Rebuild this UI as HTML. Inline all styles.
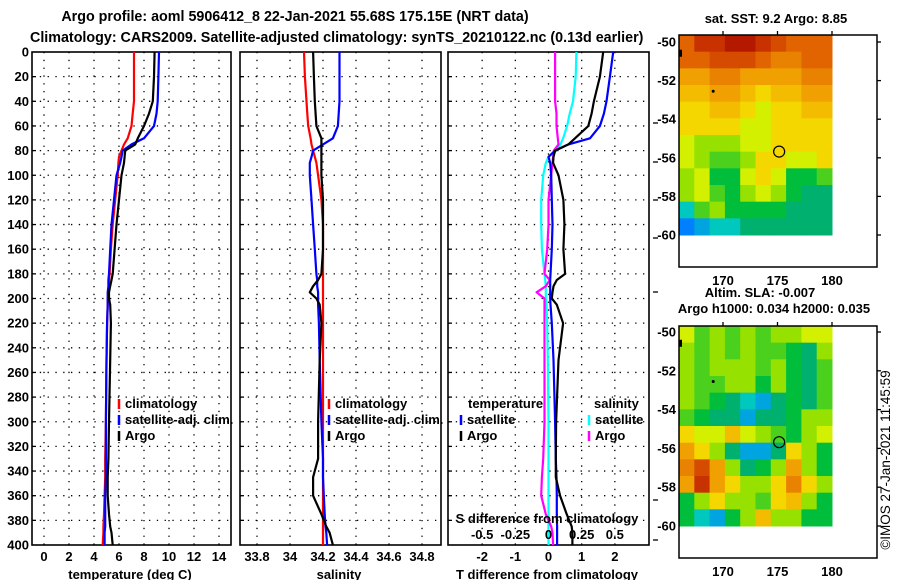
<!DOCTYPE html>
<html><head><meta charset="utf-8">
<style>
html,body{margin:0;padding:0;background:#fff;}
svg{display:block;font-family:"Liberation Sans",sans-serif;font-weight:bold;}
text{font-size:13px;fill:#000;}
</style></head>
<body>
<svg id="chart" width="900" height="580" viewBox="0 0 900 580" xmlns="http://www.w3.org/2000/svg">
<text x="295" y="21" text-anchor="middle" style="font-size:14.3px">Argo profile: aoml 5906412_8 22-Jan-2021 55.68S 175.15E (NRT data)</text>
<text x="30" y="42" style="font-size:14.3px">Climatology: CARS2009. Satellite-adjusted climatology: synTS_20210122.nc (0.13d earlier)</text>
<text x="776" y="23" text-anchor="middle">sat. SST: 9.2 Argo: 8.85</text>
<text x="760" y="297" text-anchor="middle">Altim. SLA: -0.007</text>
<text x="774" y="313" text-anchor="middle">Argo h1000: 0.034 h2000: 0.035</text>
<text transform="translate(890,460) rotate(-90)" text-anchor="middle" style="font-weight:normal;font-size:13.5px">©IMOS 27-Jan-2021 11:45:59</text>
<g id="g"></g>
</svg>
<script>
// ---------- data ----------
const depths = [0,20,40,50,60,70,75,80,85,90,100,120,140,160,180,185,190,195,200,205,220,250,300,330,345,360,375,385,390,400];
// Panel 1 temperature (deg C)
const tClim = [7.2,7.2,7.2,7.1,7.0,6.7,6.4,6.2,6.0,5.95,5.9,5.7,5.5,5.35,5.25,5.2,5.2,5.15,5.1,5.1,5.05,5.0,4.95,4.9,4.9,4.85,4.8,4.75,4.75,4.7];
const tSat  = [9.2,9.15,9.1,9.0,8.8,8.0,7.0,6.3,6.2,6.1,5.8,5.6,5.4,5.3,5.2,5.15,5.15,5.1,5.1,5.1,5.05,5.0,4.95,4.95,4.95,4.9,4.9,4.9,4.85,4.85];
const tArgo = [8.85,8.8,8.7,8.4,8.0,7.5,7.3,6.5,6.45,6.4,6.2,6.0,5.8,5.65,5.5,5.4,5.3,5.2,5.2,5.3,5.35,5.3,5.2,5.15,5.1,5.1,5.2,5.3,5.4,5.5];
// Panel 2 salinity
const sClim = [34.085,34.09,34.1,34.105,34.11,34.125,34.13,34.14,34.15,34.16,34.17,34.19,34.2,34.2,34.2,34.2,34.2,34.2,34.2,34.2,34.2,34.2,34.2,34.2,34.2,34.2,34.2,34.2,34.2,34.2];
const sSat  = [34.30,34.30,34.30,34.295,34.29,34.26,34.2,34.14,34.13,34.12,34.12,34.13,34.14,34.15,34.16,34.165,34.165,34.17,34.17,34.17,34.175,34.18,34.19,34.2,34.2,34.205,34.21,34.215,34.22,34.225];
const sArgo = [34.14,34.145,34.15,34.155,34.16,34.19,34.19,34.19,34.19,34.19,34.19,34.2,34.2,34.2,34.19,34.17,34.14,34.12,34.16,34.18,34.19,34.18,34.17,34.17,34.14,34.14,34.19,34.22,34.24,34.26];
// Panel 3 differences (T in deg C, S in PSU)
const dTSat  = [1.95,1.85,1.75,1.67,1.55,1.25,0.6,0.2,0.0,0.05,0.08,0.1,0.12,0.1,0.06,0.05,0.05,0.05,0.05,0.06,0.1,0.15,0.2,0.22,0.24,0.25,0.25,0.26,0.26,0.26];
const dTArgo = [1.65,1.55,1.37,1.3,1.2,0.8,0.6,0.2,0.15,0.14,0.3,0.45,0.48,0.45,0.5,0.25,0.15,0.12,0.1,0.25,0.44,0.3,0.23,0.22,0.22,0.35,0.55,0.7,0.72,0.72];
const dSSat  = [0.21,0.205,0.185,0.16,0.14,0.11,0.09,0.06,0.0,-0.02,-0.04,-0.055,-0.055,-0.05,-0.03,-0.025,-0.02,-0.02,-0.02,-0.015,-0.01,-0.005,0.0,0.0,0.0,0.0,0.0,0.0,0.0,0.0];
const dSArgo = [0.05,0.05,0.05,0.06,0.06,0.07,0.075,0.04,0.035,0.03,0.02,0.0,0.0,-0.01,-0.03,0.01,-0.02,-0.09,-0.03,-0.03,-0.03,-0.03,-0.03,-0.04,-0.05,-0.055,-0.02,0.02,0.03,0.035];

const depthTicks = [0,20,40,60,80,100,120,140,160,180,200,220,240,260,280,300,320,340,360,380,400];
const tTicks = [0,2,4,6,8,10,12,14];
const sTicks = [33.8,34,34.2,34.4,34.6,34.8];
const sTickLabels = ["33.8","34","34.2","34.4","34.6","34.8"];
const dTTicks = [-2,-1,0,1,2];
const dSTicks = [-0.5,-0.25,0,0.25,0.5];
const dSTickLabels = ["-0.5","-0.25","0","0.25","0.5"];

// Maps (12 rows top->bottom, 10 columns left->right), colour index 0..10
const sstGrid = [
 [8,9,9,9.5,9.5,9,8.5,8,8,8],
 [8,8,8.5,8.5,8.5,8,7.5,7.5,8,8],
 [7,7,7.5,7.5,7,7,7,7,7.5,7.5],
 [6.5,6.5,7,7,6.5,6,6.5,6.5,7,7],
 [6,6,6.5,6.5,6,5.5,6,6,6.5,6.5],
 [6,6,6,6,5.5,5.5,6,6,6,6],
 [5.5,5,5,5,5.5,5.5,6,6,6,6],
 [5.5,5,4.5,4.5,5,6,6,5.5,5.5,6],
 [5,5.5,4,4,5.5,6,5.5,4,4,4.5],
 [5,5.5,4.5,4,5,5.5,5,4,3.5,3.5],
 [3,4.5,5,4,4,4,4,3.5,3.5,3.5],
 [2,2.5,3,3,3.5,3.5,3.5,3.5,3.5,3.5]];
const slaGrid = [
 [5.5,4.5,5,4.5,5,4.5,5,5,5.5,5.5],
 [5,4.5,5,4.5,5,4.5,4.5,4,3.5,5],
 [5,4.5,5,5,5,4.5,5,4,3.5,4.5],
 [5,4.5,4.5,5,5,4,5,4,3.5,4.5],
 [5,4.5,4,3.5,3,2.5,3.5,4,3.5,4.5],
 [4.5,4,3.5,3.5,2.5,3.5,3.5,4,5,5],
 [6,5.5,5.5,6.5,5.5,5,4.5,4,5,5.5],
 [7,6,5,3.5,2.5,2.5,3.5,6,5,4],
 [7.5,8.5,7,5,3.5,4,5,7,5,4],
 [7,9,7,6,5,5,6,7.5,6,5],
 [4,5,6,5,5,4.5,6,6.5,5,4],
 [4,3,2.5,4,5,6.5,5,5,4,4]];
const latTicks = [-50,-52,-54,-56,-58,-60];
const lonTicks = [170,175,180];
const argoLon = 175.15, argoLat = -55.68;

// ---------- helpers ----------
const NS = "http://www.w3.org/2000/svg";
const root = document.getElementById("g");
function mk(tag, attrs, parent){
  const e = document.createElementNS(NS, tag);
  for (const k in attrs) e.setAttribute(k, attrs[k]);
  (parent||root).appendChild(e);
  return e;
}
const yTop = 52, yBot = 545;
const yD = d => yTop + (d/400)*(yBot-yTop);

function panel(name, x0, x1, vmin, vmax, ticks, labels, showDepthLabels){
  const sx = v => x0 + (v - vmin)/(vmax - vmin)*(x1 - x0);
  const g = mk("g", {});
  
  
  depthTicks.forEach(d => {
    if (d===0||d===400) return;
    const l = mk("line",{x1:x0,x2:x1,y1:yD(d),y2:yD(d),stroke:"#000","stroke-width":1.3,"stroke-dasharray":"1.3 6.5"},g);
    
    
    const tk = mk("line",{x1:x0,x2:x0+4,y1:yD(d),y2:yD(d),stroke:"#000","stroke-width":1.3},g);
    
    
  });
  ticks.forEach((t,i) => {
    const x = sx(t);
    const l = mk("line",{x1:x,x2:x,y1:yTop,y2:yBot,stroke:"#000","stroke-width":1.3,"stroke-dasharray":"1.3 6.5"},g);
    
    
    if (labels){
      const tx = mk("text",{x:x,y:561,"text-anchor":"middle"},g);
      tx.textContent = labels[i];
      
      
    }
  });
  if (showDepthLabels){
    depthTicks.forEach(d => {
      const tx = mk("text",{x:29,y:yD(d)+4.5,"text-anchor":"end"},g);
      tx.textContent = d;
      
      
    });
  }
  const fr = mk("rect",{x:x0,y:yTop,width:x1-x0,height:yBot-yTop,fill:"none",stroke:"#000","stroke-width":1.6},g);
  
  
  return {g, sx};
}
function series(p, vals, color, name, w){
  const pts = vals.map((v,i)=> p.sx(v).toFixed(1)+","+yD(depths[i]).toFixed(1)).join(" ");
  const pl = mk("polyline",{points:pts,fill:"none",stroke:color,"stroke-width":w||2.2,"stroke-linejoin":"round"},p.g);
  
  
}
function legend(g, x, y, items){
  items.forEach((it,i)=>{
    const yy = y + i*16;
    const m = mk("line",{x1:x,x2:x,y1:yy-9,y2:yy+1,stroke:it[1],"stroke-width":2.5},g);
    
    
    const t = mk("text",{x:x+6,y:yy},g);
    t.textContent = it[0];
    
    
  });
}

// Panel 1
const p1 = panel("temperature-panel", 32, 231, -0.96, 14.96, tTicks, tTicks.map(String), true);
series(p1, tClim, "#f00", "climatology-temperature-line");
series(p1, tSat, "#00f", "satellite-temperature-line");
series(p1, tArgo, "#000", "argo-temperature-line");
legend(p1.g, 119, 408, [["climatology","#f00"],["satellite-adj. clim.","#00f"],["Argo","#000"]]);
let t = mk("text",{x:130,y:579,"text-anchor":"middle"},p1.g); t.textContent="temperature (deg C)";
 

// Panel 2
const p2 = panel("salinity-panel", 240, 441, 33.697, 34.915, sTicks, sTickLabels, false);
series(p2, sClim, "#f00", "climatology-salinity-line");
series(p2, sSat, "#00f", "satellite-salinity-line");
series(p2, sArgo, "#000", "argo-salinity-line");
legend(p2.g, 329, 408, [["climatology","#f00"],["satellite-adj. clim.","#00f"],["Argo","#000"]]);
t = mk("text",{x:339,y:579,"text-anchor":"middle"},p2.g); t.textContent="salinity";
 

// Panel 3
const p3 = panel("difference-panel", 448, 649, -3.03, 3.03, dTTicks, dTTicks.map(String), false);
const p3s = {g:p3.g, sx: s => p3.sx(s*4)};
series(p3s, dSSat, "#0ff", "satellite-salinity-diff-line");
series(p3s, dSArgo, "#f0f", "argo-salinity-diff-line");
series(p3, dTSat, "#00f", "satellite-temperature-diff-line");
series(p3, dTArgo, "#000", "argo-temperature-diff-line");
t = mk("text",{x:468,y:408},p3.g); t.textContent="temperature";
 
t = mk("text",{x:594,y:408},p3.g); t.textContent="salinity";
 
legend(p3.g, 461, 424, [["satellite","#00f"],["Argo","#000"]]);
legend(p3.g, 589, 424, [["satellite","#0ff"],["Argo","#f0f"]]);
t = mk("text",{x:547,y:523,"text-anchor":"middle"},p3.g); t.textContent="S difference from climatology";
 
dSTicks.forEach((s,i)=>{
  const tx = mk("text",{x:p3s.sx(s),y:539,"text-anchor":"middle"},p3.g);
  tx.textContent = dSTickLabels[i];
  
  
});
t = mk("text",{x:547,y:579,"text-anchor":"middle"},p3.g); t.textContent="T difference from climatology";
 
[123,162,200,238,292,500,540].forEach(y=>{
  const l = mk("line",{x1:653,x2:658,y1:y,y2:y,stroke:"#000","stroke-width":1.3},p3.g);
   
});

// ---------- maps ----------
const stops = [[1,[0,32,192]],[2,[0,128,255]],[3,[0,200,190]],[3.5,[0,176,110]],[4,[0,190,60]],[5,[150,225,0]],[5.5,[210,240,0]],[6,[245,215,0]],[7,[240,160,0]],[8,[225,100,0]],[9,[200,50,0]],[10,[160,0,0]]];
function cmap(v){
  if (v<=stops[0][0]) return "rgb("+stops[0][1]+")";
  for (let i=1;i<stops.length;i++){
    if (v<=stops[i][0]){
      const a=stops[i-1], b=stops[i], f=(v-a[0])/(b[0]-a[0]);
      const c=a[1].map((x,k)=>Math.round(x+(b[1][k]-x)*f));
      return "rgb("+c+")";
    }
  }
  return "rgb("+stops[stops.length-1][1]+")";
}
function map(name, grid, fy0, latY50, latY60, circleColor){
  const fx0=679, fx1=877, fy1=fy0+232;
  const dpl = (latY60-latY50)/10;
  const ly = lat => latY50 + (-50-lat)*dpl;
  const lx = lon => 723 + (lon-170)*(832-723)/10;
  const g = mk("g",{});
  
  
  const dx0=679, dx1=832, dy0=fy0, dy1=latY60;
  const rows=grid.length, cols=grid[0].length;
  const cw=(dx1-dx0)/cols, ch=(dy1-dy0)/rows;
  grid.forEach((row,r)=>row.forEach((v,c)=>{
    const cell = mk("rect",{x:(dx0+c*cw).toFixed(2),y:(dy0+r*ch).toFixed(2),width:(cw+0.5).toFixed(2),height:(ch+0.5).toFixed(2),fill:cmap(v)},g);
    
    
  }));
  const fr = mk("rect",{x:fx0,y:fy0,width:fx1-fx0,height:fy1-fy0,fill:"none",stroke:"#000","stroke-width":1.5},g);
   
  latTicks.forEach(lat=>{
    const y=ly(lat);
    const tx=mk("text",{x:676,y:y+4.5,"text-anchor":"end"},g); tx.textContent=lat;
     
    const tk=mk("line",{x1:fx1,x2:fx1+4,y1:y,y2:y,stroke:"#000","stroke-width":1.3},g);
     
  });
  lonTicks.forEach(lon=>{
    const x=lx(lon);
    const tx=mk("text",{x:x,y:fy1+18,"text-anchor":"middle"},g); tx.textContent=lon;
     
    const tk=mk("line",{x1:x,x2:x,y1:fy0,y2:fy0-4,stroke:"#000","stroke-width":1.3},g);
     
  });
  const ci=mk("circle",{cx:lx(argoLon),cy:ly(argoLat),r:5.5,fill:"none",stroke:circleColor,"stroke-width":1.2},g);
   
  const d1=mk("circle",{cx:lx(169.1),cy:ly(-52.55),r:1.5,fill:"#000"},g);
   
  const d2=mk("rect",{x:679,y:ly(-50.4),width:3,height:7,fill:"#000"},g);
   
}
map("sst-map", sstGrid, 35, 42, 235, "#000");
map("sla-map", slaGrid, 326, 332, 526, "#000");
</script>
</body></html>
